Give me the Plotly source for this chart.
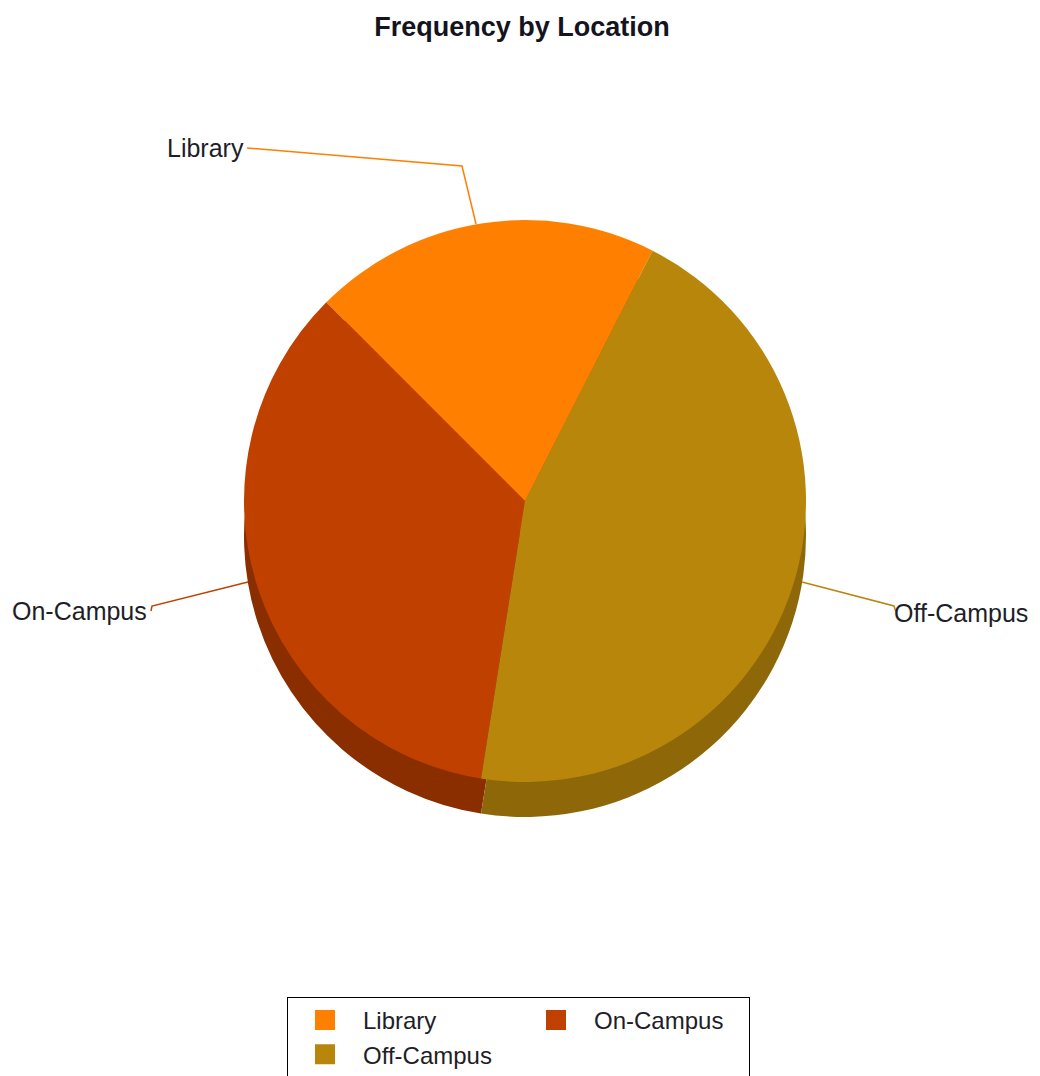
import plotly.graph_objects as go

# ---- data ----
categories = ["Library", "On-Campus", "Off-Campus"]
values = [20, 35, 45]
top_colors = ["#FF8000", "#C04000", "#B8860B"]
side_colors = ["#B85C00", "#8A2E00", "#8E6709"]
legend_columns = ["col1", "col2", "col1"]
title_text = "Frequency by Location"

# ---- layout helpers (page pixel -> paper; page has an 8px body margin) ----
OFF = 8
W, H = 1024, 1076


def px(x, y):
    return (x - OFF) / W, 1 - (y - OFF) / H


def dom(cx, cy, r):
    x0, y0 = px(cx - r, cy + r)
    x1, y1 = px(cx + r, cy - r)
    return dict(x=[x0, x1], y=[y0, y1])


CX, CY, R, DEPTH = 525, 501, 281, 35

fig = go.Figure()

# side (depth) of the pseudo-3D pie
fig.add_trace(go.Pie(
    labels=categories, values=values, sort=False, direction="counterclockwise",
    rotation=-45, marker=dict(colors=side_colors, line=dict(width=0)),
    textinfo="none", hoverinfo="skip", showlegend=False,
    domain=dom(CX, CY + DEPTH, R),
))
# top surface
fig.add_trace(go.Pie(
    labels=categories, values=values, sort=False, direction="counterclockwise",
    rotation=-45, marker=dict(colors=top_colors, line=dict(width=0)),
    textinfo="none", hoverinfo="label+value+percent", showlegend=False,
    domain=dom(CX, CY, R),
))

# legend entries (two columns: Library / Off-Campus, On-Campus)
for cat, col, grp in zip(categories, top_colors, legend_columns):
    fig.add_trace(go.Scatter(
        x=[None], y=[None], mode="markers", name=cat, legendgroup=grp,
        marker=dict(symbol="square", size=16, color=col, line=dict(color=col, width=4)),
        hoverinfo="skip",
    ))

# outside labels with leader lines
label_pos = {"Library": (205, 148), "On-Campus": (79, 611), "Off-Campus": (961, 613)}
leader = {
    "Library": [(247, 148), (462, 166), (476, 224)],
    "On-Campus": [(151, 611), (152, 606), (248, 582)],
    "Off-Campus": [(896, 612), (894, 606), (802, 582)],
}
annotations = []
shapes = []
for cat, col in zip(categories, top_colors):
    x, y = px(*label_pos[cat])
    annotations.append(dict(
        text=cat, x=x, y=y, xref="paper", yref="paper", showarrow=False,
        xanchor="center", yanchor="middle",
        font=dict(family="Liberation Sans, Arial, sans-serif", size=25, color="#1e1e28"),
    ))
    pts = [px(a, b) for a, b in leader[cat]]
    path = "M " + " L ".join(f"{a:.5f},{b:.5f}" for a, b in pts)
    shapes.append(dict(type="path", path=path, xref="paper", yref="paper",
                       line=dict(color=col, width=1.5), layer="above"))

lx, ly = px(287, 997)
fig.update_layout(
    width=W, height=H,
    margin=dict(l=0, r=0, t=0, b=0),
    paper_bgcolor="white", plot_bgcolor="white",
    title=dict(text=f"<b>{title_text}</b>", x=px(522, 0)[0], xanchor="center",
               y=1 - (27 - OFF) / H, yanchor="middle", yref="container",
               font=dict(family="Liberation Sans, Arial, sans-serif", size=27, color="#14141e")),
    xaxis=dict(visible=False), yaxis=dict(visible=False),
    annotations=annotations, shapes=shapes,
    legend=dict(
        orientation="h", traceorder="grouped", x=lx, y=ly, xanchor="left", yanchor="top",
        itemwidth=66, entrywidth=150, entrywidthmode="pixels", tracegroupgap=0,
        bgcolor="white", bordercolor="black", borderwidth=1,
        font=dict(family="Liberation Sans, Arial, sans-serif", size=24, color="#1e1e28"),
    ),
    showlegend=True,
)

fig.write_html("out.html")
